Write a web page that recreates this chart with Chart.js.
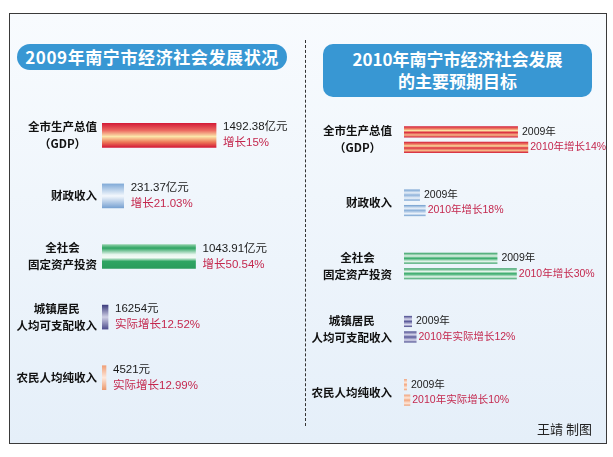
<!DOCTYPE html>
<html>
<head>
<meta charset="utf-8">
<script src="https://cdn.jsdelivr.net/npm/chart.js@4.4.1/dist/chart.umd.min.js"></script>
<style>
  body { margin:0; background:#fff; }
  #page { position:relative; width:613px; height:457px; overflow:hidden; font-family:"Noto Sans CJK SC", sans-serif; }
  #panel { position:absolute; left:9px; top:13px; width:596px; height:429px; border:1px solid #3a3a3a;
           background:linear-gradient(#f8fbfe, #e5eff9); }
  #divider { position:absolute; left:305px; top:40px; height:386px; border-left:1px dashed #333; }
  .title { position:absolute; background:#3897d3; color:#fff; font-weight:bold; text-align:center; }
  #t1 { left:17px; top:44px; width:270px; height:26px; line-height:26px; border-radius:13px; font-size:17px; letter-spacing:0.6px; }
  #t2 { left:323px; top:44px; width:269px; height:53px; border-radius:10px; font-size:17px; line-height:22px; padding-top:4px; box-sizing:border-box; }
  #credit { position:absolute; left:537px; top:419px; font-size:13px; color:#222; }
  canvas { position:absolute; }
</style>
</head>
<body>
<div id="page">
  <div id="panel"></div>
  <div id="divider"></div>
  <div class="title" id="t1">2009年南宁市经济社会发展状况</div>
  <div class="title" id="t2">2010年南宁市经济社会发展<br>的主要预期目标</div>
  <canvas id="left" width="305" height="310" style="left:0;top:100px"></canvas>
  <canvas id="right" width="301" height="330" style="left:305px;top:100px"></canvas>
  <div id="credit">王靖&nbsp;制图</div>
</div>
<script>
// categories (multi-line labels)
const categories = [['全市生产总值', '（GDP）'], ['财政收入'], ['全社会', '固定资产投资'], ['城镇居民', '人均可支配收入'], ['农民人均纯收入']];
// 2009 figures shown beside the left bars
const values2009 = ['1492.38亿元', '231.37亿元', '1043.91亿元', '16254元', '4521元'];
const growth2009 = ['增长15%', '增长21.03%', '增长50.54%', '实际增长12.52%', '实际增长12.99%'];
// 2010 targets on the right
const targets2010 = ['2010年增长14%', '2010年增长18%', '2010年增长30%', '2010年实际增长12%', '2010年实际增长10%'];
// bar lengths as drawn in the graphic (GDP 2009 = 100)
const leftBarLen = [100, 19, 82, 5.3, 3.5];
const planBarLen2009 = [100, 14, 82, 7, 2.6];
const planBarLen2010 = [109, 19, 99, 11, 5.5];

const palette = [
  [[0, '#d41c38'], [0.3, '#ec6a62'], [0.55, '#fce6aa'], [0.78, '#ee7a58'], [1, '#d41c38']],
  [[0, '#82abd8'], [0.5, '#f4f8fd'], [1, '#78a2d2']],
  [[0, '#8fd0a8'], [0.15, '#2ea462'], [0.42, '#e8f6ee'], [0.55, '#f4fbf6'], [0.7, '#2fa563'], [1, '#2a9c5c']],
  [[0, '#3e3e7e'], [0.5, '#d0d0e6'], [1, '#4e4e8e']],
  [[0, '#f0a078'], [0.5, '#fde8dc'], [1, '#ec9a6e']]
];
const stripePalette = [
  [[0, '#d41c38'], [0.25, '#f08a6a'], [0.38, '#fce0a0'], [0.55, '#dc3040'], [0.78, '#f6b888'], [1, '#d41c38']],
  [[0, '#6e9cce'], [0.3, '#e8f0f9'], [0.5, '#8eb2da'], [0.78, '#eef4fb'], [1, '#6e9cce']],
  [[0, '#2a9c5c'], [0.3, '#e4f4ea'], [0.5, '#32a866'], [0.78, '#e8f6ee'], [1, '#2a9c5c']],
  [[0, '#44448a'], [0.3, '#d8d8ec'], [0.5, '#5a5a9a'], [0.78, '#dcdcee'], [1, '#44448a']],
  [[0, '#f0a078'], [0.3, '#fde6d8'], [0.5, '#f2a882'], [0.78, '#fde8dc'], [1, '#ee9c70']]
];

const gradBars = {
  id: 'gradBars',
  beforeDatasetsDraw(chart) {
    const c = chart.ctx;
    chart.data.datasets.forEach((ds, di) => {
      chart.getDatasetMeta(di).data.forEach((bar, i) => {
        const p = bar.getProps(['y', 'height'], true);
        const g = c.createLinearGradient(0, p.y - p.height / 2, 0, p.y + p.height / 2);
        ds.stops[i].forEach(s => g.addColorStop(s[0], s[1]));
        bar.options = Object.assign({}, bar.options, { backgroundColor: g });
      });
    });
  }
};

const catLabels = {
  id: 'catLabels',
  afterDraw(chart, args, opts) {
    const c = chart.ctx;
    const y = chart.scales.y;
    c.save();
    c.font = 'bold 11.5px "Noto Sans CJK SC", sans-serif';
    c.fillStyle = '#111';
    c.textAlign = 'center';
    c.textBaseline = 'middle';
    const right = chart.chartArea.left - opts.gap;
    chart.data.labels.forEach((lines, i) => {
      const w = Math.max(...lines.map(l => c.measureText(l).width));
      const cy = y.getPixelForValue(i);
      const lh = 17;
      lines.forEach((l, k) => {
        c.fillText(l, right - w / 2, cy + (k - (lines.length - 1) / 2) * lh);
      });
    });
    c.restore();
  }
};

const valueText = {
  id: 'valueText',
  afterDatasetsDraw(chart) {
    const c = chart.ctx;
    c.save();
    c.textAlign = 'left';
    c.textBaseline = 'middle';
    chart.data.datasets.forEach((ds, di) => {
      chart.getDatasetMeta(di).data.forEach((bar, i) => {
        ds.notes[i].forEach((n, k) => {
          c.font = ds.noteFont;
          c.fillStyle = n.color;
          c.fillText(n.text, bar.x + ds.noteGap, bar.y + n.dy);
        });
      });
    });
    c.restore();
  }
};

const black = '#1a1a1a', red = '#c4284e';

new Chart(document.getElementById('left'), {
  type: 'bar',
  data: {
    labels: categories,
    datasets: [{
      data: leftBarLen,
      barThickness: 24,
      borderWidth: 0,
      backgroundColor: '#ccc',
      stops: palette,
      noteFont: '11.5px "Liberation Sans", "Noto Sans CJK SC", sans-serif',
      noteGap: 7,
      notes: values2009.map((v, i) => [{ text: v, color: black, dy: -8 }, { text: growth2009[i], color: red, dy: 8 }])
    }]
  },
  options: {
    indexAxis: 'y',
    responsive: false,
    animation: false,
    layout: { padding: { left: 102, top: 5, bottom: 2, right: 0 } },
    scales: {
      x: { display: false, min: 0, max: 178 },
      y: { display: false }
    },
    plugins: { legend: { display: false }, tooltip: { enabled: false }, catLabels: { gap: 5 } }
  },
  plugins: [gradBars, catLabels, valueText]
});

new Chart(document.getElementById('right'), {
  type: 'bar',
  data: {
    labels: categories,
    datasets: [{
      label: '2009年',
      data: planBarLen2009,
      borderWidth: 0,
      backgroundColor: '#ccc',
      stops: stripePalette,
      noteFont: '10.5px "Liberation Sans", "Noto Sans CJK SC", sans-serif',
      noteGap: 4,
      notes: planBarLen2009.map(() => [{ text: '2009年', color: black, dy: 0 }])
    }, {
      label: '2010年',
      data: planBarLen2010,
      borderWidth: 0,
      backgroundColor: '#ccc',
      stops: stripePalette,
      noteFont: '10.5px "Liberation Sans", "Noto Sans CJK SC", sans-serif',
      noteGap: 2,
      notes: targets2010.map(t => [{ text: t, color: red, dy: 0 }])
    }]
  },
  options: {
    indexAxis: 'y',
    responsive: false,
    animation: false,
    datasets: { bar: { categoryPercentage: 0.49, barPercentage: 0.72 } },
    layout: { padding: { left: 99, top: 8, bottom: 6, right: 6 } },
    scales: {
      x: { display: false, min: 0, max: 172 },
      y: { display: false }
    },
    plugins: { legend: { display: false }, tooltip: { enabled: false }, catLabels: { gap: 12 } }
  },
  plugins: [gradBars, catLabels, valueText]
});
</script>
</body>
</html>
